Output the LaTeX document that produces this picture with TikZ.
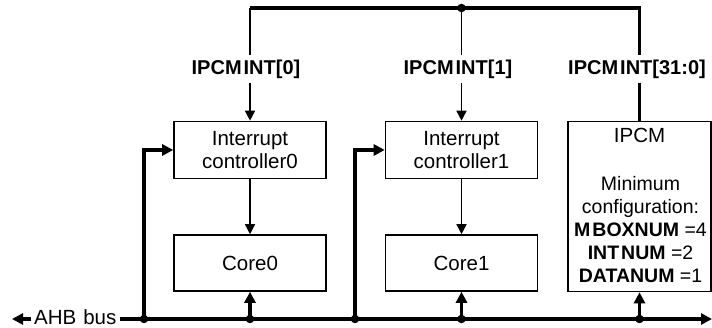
\documentclass[tikz,border=0pt]{standalone}
\usepackage{fontspec}
\setmainfont{Liberation Sans}
\usetikzlibrary{arrows.meta}
\begin{document}
\begin{tikzpicture}[x=1pt,y=-1pt,
  txt/.style={font=\fontsize{20.5}{23}\selectfont},
  box/.style={draw,line width=1.6pt,minimum width=152pt,inner sep=0pt,align=center,txt},
  sig/.style={line width=1.6pt},
  sigarr/.style={sig,-{Triangle[length=10pt,width=10pt]}},
  bus/.style={line width=3.6pt},
  busarr/.style={bus,-{Triangle[length=11pt,width=11pt]}},
  lab/.style={font=\fontsize{20}{23}\selectfont\bfseries,inner sep=4pt},
  dot/.style={circle,fill,inner sep=0pt,minimum size=8.5pt}
]
\useasboundingbox (0,0) rectangle (712,328);

% processing blocks
\node[box,minimum height=57pt] (ic0) at (250,150) {Interrupt\\controller0};
\node[box,minimum height=56pt] (core0) at (250,263) {Core0};
\node[box,minimum height=57pt] (ic1) at (461.5,150) {Interrupt\\controller1};
\node[box,minimum height=56pt] (core1) at (461.5,263) {Core1};
\node[box,minimum width=143pt,minimum height=170pt] (ipcm) at (639.5,206.5) {};
\node[txt,inner sep=0pt] (ipcmname) at (639.5,135) {IPCM};
\node[font=\fontsize{19.5}{23}\selectfont,align=center,inner sep=0pt] (ipcmcfg) at (640.5,229.5)
  {Minimum\\configuration:\\\textbf{M\kern2pt BOXNUM} =4\\\textbf{INT\kern2pt NUM} =2\\\textbf{DATANUM} =1};

% interrupt labels
\node[lab] (lab0) at (246,69) {IPCM\kern2pt INT[0]};
\node[lab] (lab1) at (458,69) {IPCM\kern2pt INT[1]};
\node[lab] (lab2) at (637,69) {IPCM\kern2pt INT[31:0]};

% interrupt distribution
\coordinate (c0) at (250,8);
\coordinate (c1) at (461.5,8);
\coordinate (c2) at (639.5,8);
\draw[bus] (c0) -- (c2) -- (c2 |- lab2.north);
\draw[bus] (c2 |- lab2.south) -- (ipcm.north);
\node[dot] (d1) at (c1) {};
\draw[sig] (c0) -- (c0 |- lab0.north);
\draw[sigarr] (c0 |- lab0.south) -- (ic0.north);
\draw[sig] (c1) -- (c1 |- lab1.north);
\draw[sigarr] (c1 |- lab1.south) -- (ic1.north);
\draw[sigarr] (ic0.south) -- (core0.north);
\draw[sigarr] (ic1.south) -- (core1.north);

% AHB bus
\node[txt,inner xsep=3pt,inner ysep=1pt,anchor=west] (ahb) at (31,317) {AHB\hspace{7pt}bus};
\coordinate (busL) at (12,319);
\coordinate (busR) at (712,319);
\draw[busarr] (ahb.west |- busR) -- (busL);
\draw[busarr] (ahb.east |- busR) -- (busR);

\coordinate (j0) at (144,319);
\coordinate (j1) at (core0.south |- busR);
\coordinate (j2) at (355,319);
\coordinate (j3) at (core1.south |- busR);
\coordinate (j4) at (ipcm.south |- busR);

\draw[busarr] (j0) |- (ic0.west);
\draw[busarr] (j2) |- (ic1.west);
\draw[busarr] (j1) -- (core0.south);
\draw[busarr] (j3) -- (core1.south);
\draw[busarr] (j4) -- (ipcm.south);

\foreach \j in {j0,j1,j2,j3,j4} \node[dot] at (\j) {};
\end{tikzpicture}
\end{document}
